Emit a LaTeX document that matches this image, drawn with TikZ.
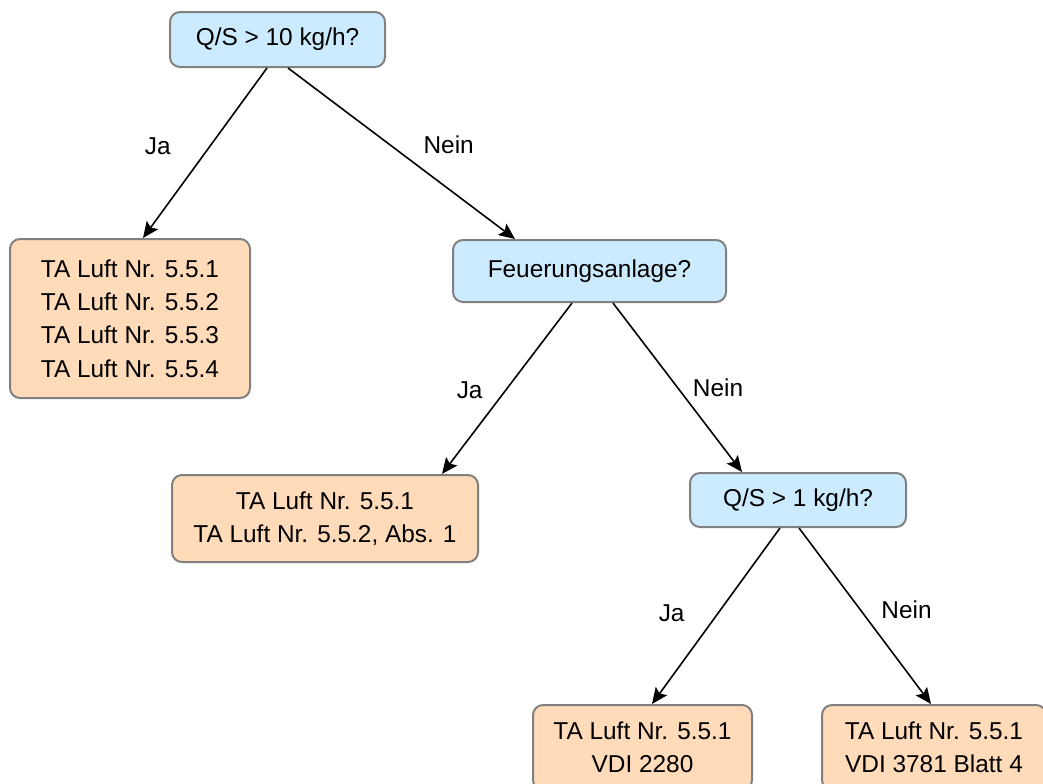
\documentclass[tikz,border=0pt]{standalone}
\usepackage{fontspec}
\setmainfont{Liberation Sans}
\usetikzlibrary{arrows.meta}
\definecolor{frageblau}{RGB}{204,235,255}
\definecolor{ergebnisorange}{RGB}{255,219,186}
\definecolor{randgrau}{RGB}{128,128,128}
\begin{document}
\begin{tikzpicture}[x=0.5pt,y=-0.5pt,
    font=\fontsize{12.2}{16.7}\selectfont,
    box/.style={draw=randgrau,line width=1pt,rounded corners=5pt,align=center,inner sep=0pt},
    frage/.style={box,fill=frageblau},
    ergebnis/.style={box,fill=ergebnisorange},
    pfeil/.style={line width=0.8pt,-{Stealth[length=8pt,width=7pt,inset=1.5pt]}}]
    \useasboundingbox (0,0) rectangle (1043,783);
    \begin{scope}
    \clip (0,0) rectangle (1043,783);

    \node[frage,minimum width=107.5pt,minimum height=27.5pt] (q10) at (277.5,39.5) {Q/S > 10 kg/h?};
    \node[ergebnis,minimum width=120pt,minimum height=79.5pt] (ta4) at (130,318.5) {TA Luft Nr. 5.5.1\\TA Luft Nr. 5.5.2\\TA Luft Nr. 5.5.3\\TA Luft Nr. 5.5.4};
    \node[frage,minimum width=136.5pt,minimum height=31pt] (feuer) at (589.5,271) {Feuerungsanlage?};
    \node[ergebnis,minimum width=153pt,minimum height=43.5pt] (ta2) at (325,518.5) {TA Luft Nr. 5.5.1\\TA Luft Nr. 5.5.2, Abs. 1};
    \node[frage,minimum width=108pt,minimum height=27pt] (q1) at (798,500) {Q/S > 1 kg/h?};
    \node[ergebnis,minimum width=109.5pt,minimum height=42.5pt] (vdiA) at (642.5,747.5) {TA Luft Nr. 5.5.1\\VDI 2280};
    \node[ergebnis,minimum width=112pt,minimum height=42.5pt] (vdiB) at (934,747.5) {TA Luft Nr. 5.5.1\\VDI 3781 Blatt 4};

    \draw[pfeil] ([xshift=-5.25pt]q10.south) -- ([xshift=6.5pt]ta4.north) node[pos=0.45,left=16.5pt,yshift=-1pt] {Ja};
    \draw[pfeil] ([xshift=5.25pt]q10.south) -- ([xshift=-37.25pt]feuer.north) node[pos=0.45,right=13pt] {Nein};

    \draw[pfeil] ([xshift=-8.75pt]feuer.south) -- ([xshift=58.5pt]ta2.north) node[pos=0.5,left=8.5pt,yshift=-1pt] {Ja};
    \draw[pfeil] ([xshift=11.75pt]feuer.south) -- ([xshift=-28pt]q1.north) node[pos=0.5,right=4pt] {Nein};

    \draw[pfeil] ([xshift=-9pt]q1.south) -- ([xshift=4.75pt]vdiA.north) node[pos=0.5,left=12pt,yshift=1.5pt] {Ja};
    \draw[pfeil] ([xshift=0.5pt]q1.south) -- ([xshift=-1.5pt]vdiB.north) node[pos=0.5,right=4.5pt,yshift=3pt] {Nein};
    \end{scope}
\end{tikzpicture}
\end{document}
